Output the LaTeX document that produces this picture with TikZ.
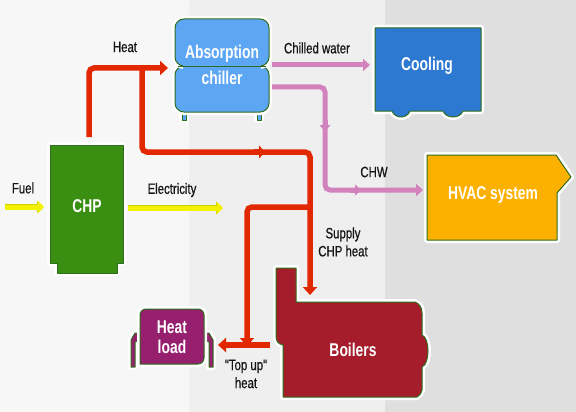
\documentclass[tikz,border=0pt]{standalone}
\usepackage{fontspec}
\setmainfont{Liberation Sans}
\newfontfamily\condfont[FakeStretch=0.75]{Liberation Sans}
\newfontfamily\labelfont[FakeStretch=0.76,FakeBold=0.6]{Liberation Sans}
\usetikzlibrary{arrows.meta}
\definecolor{bgA}{HTML}{F7F7F7}
\definecolor{bgB}{HTML}{EFEFEF}
\definecolor{bgC}{HTML}{DFDFDF}
\definecolor{edgegreen}{HTML}{2F6E1C}
\definecolor{chpgreen}{HTML}{3A8F12}
\definecolor{chillblue}{HTML}{5CA6F4}
\definecolor{coolblue}{HTML}{2D78D0}
\definecolor{hvacorange}{HTML}{FCB000}
\definecolor{boilerred}{HTML}{A51C2A}
\definecolor{loadpurple}{HTML}{96206E}
\definecolor{pipered}{HTML}{E22800}
\definecolor{pipepink}{HTML}{D283BD}
\definecolor{pipeyellow}{HTML}{F2F200}
\definecolor{yellowedge}{HTML}{CFCF00}
\definecolor{labelink}{HTML}{141414}
\tikzset{
  unit/.style={preaction={draw=white,line width=6pt,line join=round},
               draw=edgegreen,line width=1pt,line join=round},
  boxtext/.style={text=white,font=\condfont\bfseries\fontsize{18.5}{19}\selectfont,align=center,inner sep=0pt},
  flowlabel/.style={text=labelink,font=\labelfont\fontsize{15}{16}\selectfont,align=center,inner sep=0pt},
  redpipe/.style={draw=pipered,line width=5.5pt,rounded corners=5pt},
  pinkpipe/.style={draw=pipepink,line width=5pt,rounded corners=5pt},
  yellowpipe/.style={draw=pipeyellow,line width=5pt,
    preaction={draw=yellowedge,line width=6.5pt,shorten >=1pt}},
  redtip/.style={-{Triangle[length=8pt,width=14pt]}},
  pinktip/.style={-{Triangle[length=7pt,width=12pt]}},
  yellowtip/.style={-{Triangle[length=6pt,width=12pt]}},
  midred/.style={draw=pipered,line width=5.5pt,-{Triangle[length=6pt,width=13pt]}},
  midpink/.style={draw=pipepink,line width=5pt,-{Triangle[length=6pt,width=11pt]}},
}
\begin{document}
\begin{tikzpicture}[x=1pt,y=-1pt]
\useasboundingbox (0,0) rectangle (576,412);
% background bands
\fill[bgA] (0,0) rectangle (189,412);
\fill[bgB] (189,0) rectangle (385,412);
\fill[bgC] (385,0) rectangle (576,412);

% ---- coordinates for connectors ----
\coordinate (chpTop) at (89,137);
\coordinate (heatCorner) at (89,68);
\coordinate (heatSplit) at (142,68);
\coordinate (chillIn) at (168,68);
\coordinate (lowCorner) at (142,152);
\coordinate (rightCorner) at (310,152);
\coordinate (supplySplit) at (310,207);
\coordinate (boilIn) at (310,295);
\coordinate (leftCorner) at (247,207);
\coordinate (topupJoin) at (247,346);
\coordinate (boilOut) at (270,345);
\coordinate (loadIn) at (218,345);
\coordinate (chillOutA) at (272,65);
\coordinate (coolIn) at (370,65);
\coordinate (chillOutB) at (272,87);
\coordinate (chwCorner) at (325,87);
\coordinate (chwBottom) at (325,190);
\coordinate (hvacIn) at (423,190);
\coordinate (fuelStart) at (5,207);
\coordinate (chpIn) at (44,207);
\coordinate (chpOut) at (128,208);
\coordinate (elecEnd) at (223,208);

% ---- units ----
% CHP
\path[unit,fill=chpgreen] (50,145) -- (123,145) -- (123,263) -- (117,263) -- (117,273)
  -- (57,273) -- (57,263) -- (50,263) -- cycle;
\node[boxtext] (chp) at (87,206) {CHP};
% Absorption chiller
\path[unit,fill=chillblue] (182,110) rectangle (186,120);
\path[unit,fill=chillblue] (257,110) rectangle (261,120);
\path[unit,fill=chillblue,rounded corners=9pt] (175,66) rectangle (269,112);
\path[unit,fill=chillblue,rounded corners=9pt] (175,19) rectangle (269,66);
\fill[chillblue] (183,62) rectangle (261,70);
\draw[edgegreen,line width=0.8pt] (178,66) -- (266,66);
\node[boxtext] (chiller) at (222,65) {Absorption\\[7pt]chiller};
% Cooling
\path[unit,fill=coolblue] (375,28) -- (481,28) -- (481,111) -- (463,111)
  .. controls (460,119) and (446,119) .. (443,111) -- (410,111)
  .. controls (407,119) and (395,119) .. (392,111) -- (375,111) -- cycle;
\node[boxtext] (cooling) at (427,66) {Cooling};
% HVAC system
\path[unit,fill=hvacorange] (427,155) -- (556,155) -- (571,177) -- (557,193)
  -- (557,240) -- (427,240) -- cycle;
\node[boxtext] (hvac) at (493,195) {HVAC system};
% Boilers
\path[unit,fill=boilerred] (276,268) -- (296,268) -- (296,302) -- (415,302)
  .. controls (420,304) and (422,308) .. (422,313) -- (422,335)
  .. controls (430,338) and (430,364) .. (422,367) -- (422,390)
  .. controls (421,394) and (419,396) .. (417,397) -- (283,397) -- (283,345)
  .. controls (278,344) and (276,341) .. (276,336) -- cycle;
\node[boxtext] (boilers) at (353,350) {Boilers};
% Heat load
\path[unit,fill=loadpurple] (140,333) -- (135,333) -- (131,340) -- (131,367) -- (135,367)
  -- (135,342) -- (140,340) -- cycle;
\path[unit,fill=loadpurple] (204,333) -- (209,333) -- (213,340) -- (213,367) -- (209,367)
  -- (209,342) -- (204,340) -- cycle;
\path[unit,fill=loadpurple,rounded corners=6pt] (140,364) -- (140,309) -- (204,309)
  -- (204,364) [sharp corners] -- cycle;
\node[boxtext] (heatload) at (172,337) {Heat\\[1pt]load};

% ---- red heat pipes ----
\draw[redpipe,redtip] (chpTop) -- (heatCorner) -- (chillIn);
\draw[redpipe,redtip] (heatSplit) -- (lowCorner) -- (rightCorner) -- (boilIn);
\draw[midred] (254,152) -- (265,152);
\draw[redpipe,redtip] (supplySplit) -- (leftCorner) -- (topupJoin);
\draw[redpipe,sharp corners,redtip] (boilOut) -- (loadIn);

% ---- pink chilled-water pipes ----
\draw[pinkpipe,pinktip] (chillOutA) -- (coolIn);
\draw[pinkpipe,pinktip] (chillOutB) -- (chwCorner) -- (chwBottom) -- (hvacIn);
\draw[midpink] (325,120) -- (325,131);
\draw[midpink] (350,190) -- (361,190);

% ---- yellow fuel / electricity ----
\draw[yellowpipe,yellowtip] (fuelStart) -- (chpIn);
\draw[yellowpipe,yellowtip] (chpOut) -- (elecEnd);

% ---- labels ----
\node[flowlabel] (lblHeat) at (125,47) {Heat};
\node[flowlabel] (lblChilled) at (317,48) {Chilled water};
\node[flowlabel] (lblCHW) at (374,172) {CHW};
\node[flowlabel] (lblFuel) at (23,188) {Fuel};
\node[flowlabel] (lblElec) at (172,190) {Electricity};
\node[flowlabel] (lblSupply) at (343,242) {Supply\\[2pt]CHP heat};
\node[flowlabel] (lblTopup) at (246,374) {"Top up"\\[2pt]heat};
\end{tikzpicture}
\end{document}
